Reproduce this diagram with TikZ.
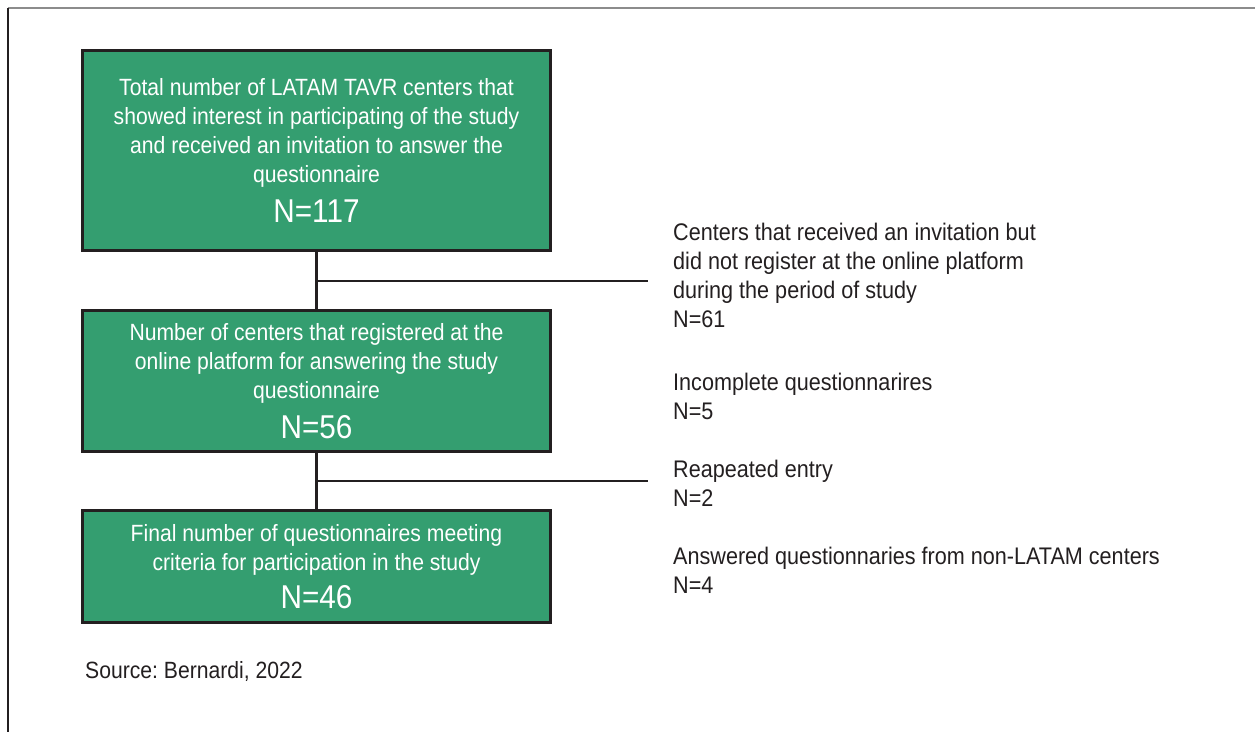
\documentclass[tikz,border=0pt]{standalone}
\usepackage{fontspec}
\setmainfont{Liberation Sans}[FakeStretch=0.9]
\definecolor{boxgreen}{RGB}{52,158,112}
\definecolor{ink}{RGB}{35,31,32}
\definecolor{framegray}{RGB}{140,140,140}
\frenchspacing
\begin{document}
\begin{tikzpicture}[x=1pt,y=-1pt,
  flowbox/.style={draw=ink, line width=3pt, fill=boxgreen, text=white, align=center,
    minimum width=468pt, inner sep=0pt, font=\fontsize{23.5}{29}\selectfont},
  sidenote/.style={anchor=north west, align=left, inner sep=0pt, text=ink,
    font=\fontsize{24}{29}\selectfont},
  link/.style={draw=ink, line width=2.5pt},
  branch/.style={draw=ink, line width=2pt},
]
\useasboundingbox (0,0) rectangle (1255,732);
\draw[framegray, line width=2pt] (8,8) -- (1255,8);
\draw[ink, line width=1.2pt] (8,8) -- (8,732);

\node[flowbox, minimum height=200pt] (b1) at (316.5,150.5)
  {Total number of LATAM TAVR centers that\\showed interest in participating of the study\\and received an invitation to answer the\\questionnaire\\[11pt]{\fontsize{33}{36}\selectfont N=117}};
\node[flowbox, minimum height=141pt] (b2) at (316.5,381)
  {Number of centers that registered at the\\online platform for answering the study\\questionnaire\\[11pt]{\fontsize{33}{36}\selectfont N=56}};
\node[flowbox, minimum height=112pt] (b3) at (316.5,566.5)
  {Final number of questionnaires meeting\\criteria for participation in the study\\[9pt]{\fontsize{33}{36}\selectfont N=46}};

\coordinate (j1) at (316.5,280.5);
\coordinate (e1) at (648,280.5);
\coordinate (j2) at (316.5,481);
\coordinate (e2) at (648,481);
\draw[link] (b1.south) -- (b2.north);
\draw[link] (b2.south) -- (b3.north);
\draw[branch] (j1) -- (e1);
\draw[branch] (j2) -- (e2);

\node[sidenote] (n1) at (673,222.5)
  {Centers that received an invitation but\\did not register at the online platform\\during the period of study\\N=61};
\node[sidenote] (n2) at (673,372.5) {Incomplete questionnarires\\N=5};
\node[sidenote] (n3) at (673,459.5) {Reapeated entry\\N=2};
\node[sidenote] (n4) at (673,546.5) {Answered questionnaries from non-LATAM centers\\N=4};

\node[anchor=base west, inner sep=0pt, text=ink, font=\fontsize{23.5}{29}\selectfont] (src) at (85,678) {Source: Bernardi, 2022};
\end{tikzpicture}
\end{document}
